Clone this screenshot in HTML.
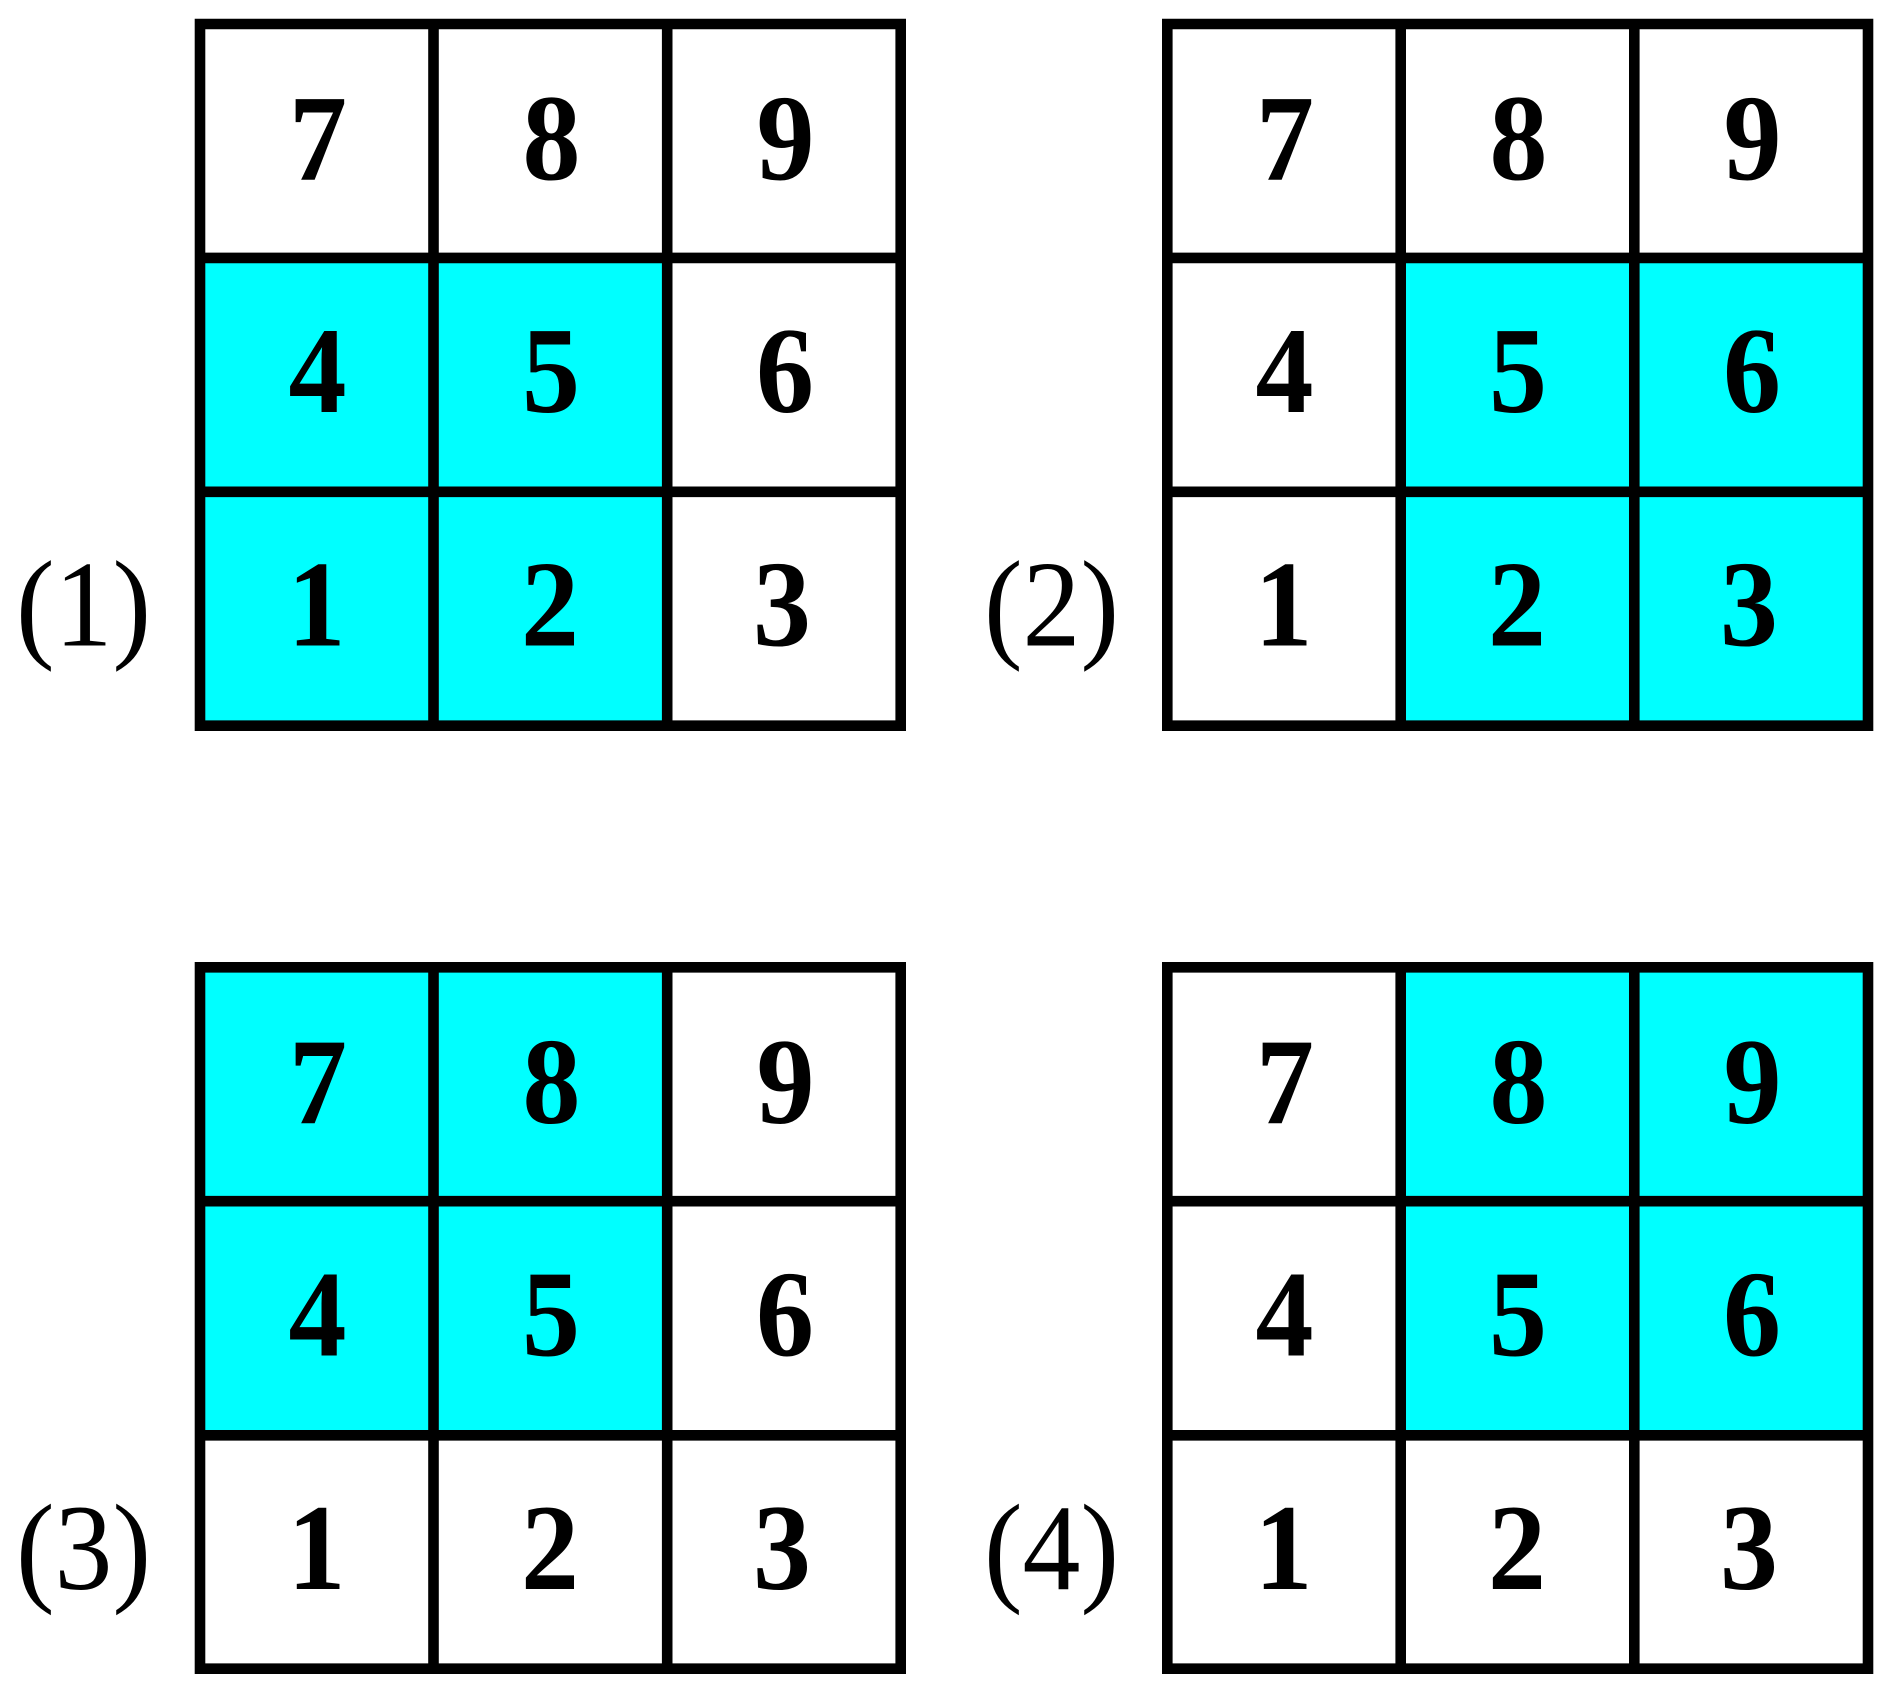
<!DOCTYPE html>
<html>
<head>
<meta charset="utf-8">
<style>
html,body{margin:0;padding:0;background:#fff;width:1892px;height:1693px;overflow:hidden}
svg{display:block}
text{font-family:"Liberation Serif",serif;font-size:123px;fill:#000}
.d{font-weight:bold;text-anchor:middle}
.c{fill:#00ffff}
.l{fill:none;stroke:#000;stroke-width:10.6}
</style>
</head>
<body>
<svg width="1892" height="1693" viewBox="0 0 1892 1693" xmlns="http://www.w3.org/2000/svg">
<rect width="1892" height="1693" fill="#fff"/>

<!-- Grid 1 -->
<rect class="c" x="200" y="258" width="467" height="467.7"/>
<path class="l" d="M200 24H900.7V725.7H200ZM433.5 24V725.7M667.2 24V725.7M200 257.9H900.7M200 491.8H900.7"/>
<text class="d" textLength="58" lengthAdjust="spacingAndGlyphs" x="318" y="179.5">7</text><text class="d" textLength="58" lengthAdjust="spacingAndGlyphs" x="551.5" y="179.5">8</text><text class="d" textLength="58" lengthAdjust="spacingAndGlyphs" x="785.5" y="179.5">9</text>
<text class="d" textLength="58" lengthAdjust="spacingAndGlyphs" x="317.5" y="412">4</text><text class="d" textLength="58" lengthAdjust="spacingAndGlyphs" x="551" y="412">5</text><text class="d" textLength="58" lengthAdjust="spacingAndGlyphs" x="785" y="412">6</text>
<text class="d" textLength="58" lengthAdjust="spacingAndGlyphs" x="316.5" y="645.5">1</text><text class="d" textLength="58" lengthAdjust="spacingAndGlyphs" x="550" y="645.5">2</text><text class="d" textLength="58" lengthAdjust="spacingAndGlyphs" x="782" y="645.5">3</text>
<text textLength="135" lengthAdjust="spacingAndGlyphs" x="16" y="645.5">(1)</text>

<!-- Grid 2 -->
<rect class="c" x="1400.7" y="258" width="467" height="467.7"/>
<path class="l" d="M1167.3 24H1868V725.7H1167.3ZM1400.7 24V725.7M1634.3 24V725.7M1167.3 257.9H1868M1167.3 491.8H1868"/>
<text class="d" textLength="58" lengthAdjust="spacingAndGlyphs" x="1285" y="179.5">7</text><text class="d" textLength="58" lengthAdjust="spacingAndGlyphs" x="1518.5" y="179.5">8</text><text class="d" textLength="58" lengthAdjust="spacingAndGlyphs" x="1752.5" y="179.5">9</text>
<text class="d" textLength="58" lengthAdjust="spacingAndGlyphs" x="1284.5" y="412">4</text><text class="d" textLength="58" lengthAdjust="spacingAndGlyphs" x="1518" y="412">5</text><text class="d" textLength="58" lengthAdjust="spacingAndGlyphs" x="1752" y="412">6</text>
<text class="d" textLength="58" lengthAdjust="spacingAndGlyphs" x="1283.5" y="645.5">1</text><text class="d" textLength="58" lengthAdjust="spacingAndGlyphs" x="1517" y="645.5">2</text><text class="d" textLength="58" lengthAdjust="spacingAndGlyphs" x="1749" y="645.5">3</text>
<text textLength="135" lengthAdjust="spacingAndGlyphs" x="984" y="645.5">(2)</text>

<!-- Grid 3 -->
<rect class="c" x="200" y="967.3" width="467" height="468"/>
<path class="l" d="M200 967.3H900.7V1668.7H200ZM433.5 967.3V1668.7M667.2 967.3V1668.7M200 1201.2H900.7M200 1435.3H900.7"/>
<text class="d" textLength="58" lengthAdjust="spacingAndGlyphs" x="318" y="1123">7</text><text class="d" textLength="58" lengthAdjust="spacingAndGlyphs" x="551.5" y="1123">8</text><text class="d" textLength="58" lengthAdjust="spacingAndGlyphs" x="785.5" y="1123">9</text>
<text class="d" textLength="58" lengthAdjust="spacingAndGlyphs" x="317.5" y="1355.5">4</text><text class="d" textLength="58" lengthAdjust="spacingAndGlyphs" x="551" y="1355.5">5</text><text class="d" textLength="58" lengthAdjust="spacingAndGlyphs" x="785" y="1355.5">6</text>
<text class="d" textLength="58" lengthAdjust="spacingAndGlyphs" x="316.5" y="1589">1</text><text class="d" textLength="58" lengthAdjust="spacingAndGlyphs" x="550" y="1589">2</text><text class="d" textLength="58" lengthAdjust="spacingAndGlyphs" x="782" y="1589">3</text>
<text textLength="135" lengthAdjust="spacingAndGlyphs" x="16" y="1589">(3)</text>

<!-- Grid 4 -->
<rect class="c" x="1400.7" y="967.3" width="467" height="468"/>
<path class="l" d="M1167.3 967.3H1868V1668.7H1167.3ZM1400.7 967.3V1668.7M1634.3 967.3V1668.7M1167.3 1201.2H1868M1167.3 1435.3H1868"/>
<text class="d" textLength="58" lengthAdjust="spacingAndGlyphs" x="1285" y="1123">7</text><text class="d" textLength="58" lengthAdjust="spacingAndGlyphs" x="1518.5" y="1123">8</text><text class="d" textLength="58" lengthAdjust="spacingAndGlyphs" x="1752.5" y="1123">9</text>
<text class="d" textLength="58" lengthAdjust="spacingAndGlyphs" x="1284.5" y="1355.5">4</text><text class="d" textLength="58" lengthAdjust="spacingAndGlyphs" x="1518" y="1355.5">5</text><text class="d" textLength="58" lengthAdjust="spacingAndGlyphs" x="1752" y="1355.5">6</text>
<text class="d" textLength="58" lengthAdjust="spacingAndGlyphs" x="1283.5" y="1589">1</text><text class="d" textLength="58" lengthAdjust="spacingAndGlyphs" x="1517" y="1589">2</text><text class="d" textLength="58" lengthAdjust="spacingAndGlyphs" x="1749" y="1589">3</text>
<text textLength="135" lengthAdjust="spacingAndGlyphs" x="984" y="1589">(4)</text>
</svg>
</body>
</html>
